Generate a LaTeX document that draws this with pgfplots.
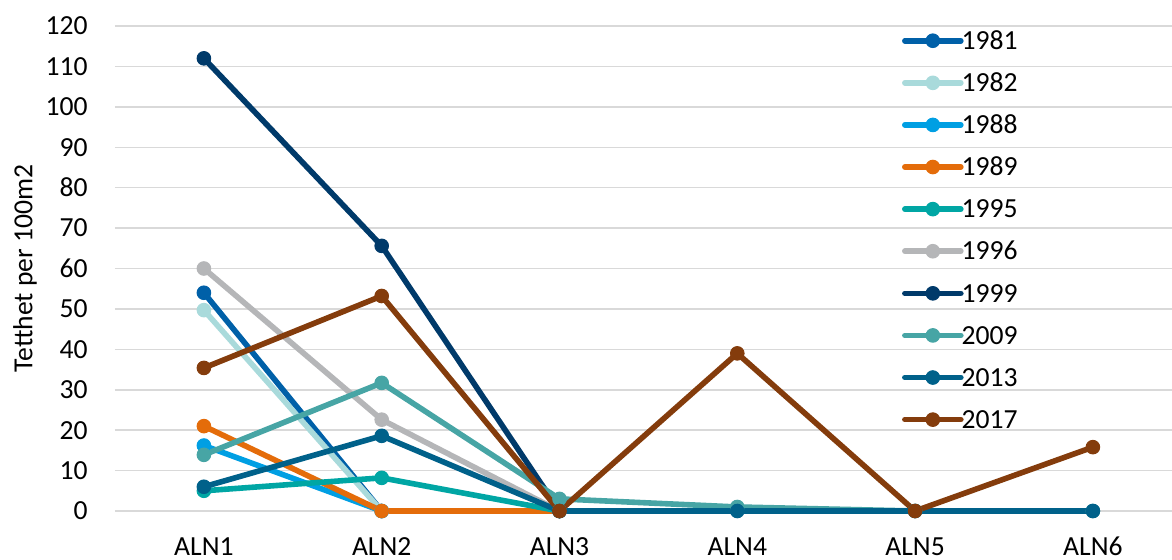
\documentclass[border=0pt]{standalone}
\usepackage{fontspec}
\setmainfont{Carlito}
\usepackage{pgfplots}
\pgfplotsset{compat=1.18}
\definecolor{c1981}{HTML}{0060A8}
\definecolor{c1982}{HTML}{A9DADB}
\definecolor{c1988}{HTML}{009FE3}
\definecolor{c1989}{HTML}{E46C0A}
\definecolor{c1995}{HTML}{00A6A4}
\definecolor{c1996}{HTML}{B5B6B8}
\definecolor{c1999}{HTML}{003A6A}
\definecolor{c2009}{HTML}{47A5A5}
\definecolor{c2013}{HTML}{00618A}
\definecolor{c2017}{HTML}{843C0C}
\definecolor{gridgray}{HTML}{D9D9D9}
\pgfplotsset{
  ser/.style={color=#1, line width=2.8pt, line join=round, line cap=round,
    mark=*, mark size=3.4pt, mark options={solid, line width=0.5pt, fill=#1, draw=#1}},
}
\begin{document}
\begin{tikzpicture}[font=\fontsize{13.8}{16}\selectfont]
\useasboundingbox (-57.5pt,-24pt) rectangle (528.5pt,255.5pt);
\begin{axis}[
  at={(0pt,0pt)}, anchor=south west,
  scale only axis, width=528.5pt, height=242.5pt,
  xmin=-0.5, xmax=5.445, ymin=0, ymax=120,
  xtick={0,1,2,3,4,5}, xticklabels={ALN1,ALN2,ALN3,ALN4,ALN5,ALN6},
  ytick={0,10,...,120},
  ymajorgrids, grid style={color=gridgray, line width=0.75pt},
  axis line style={draw=none}, major tick length=0pt,
  /pgf/number format/assume math mode=true,
  yticklabel style={anchor=east, inner sep=0pt, xshift=-13.5pt},
  xticklabel style={anchor=base, inner sep=0pt, yshift=-22pt},
  ylabel={Tetthet per 100m2},
  every axis y label/.style={at={(axis description cs:-0.0851,0.5)}, rotate=90, anchor=center},
  clip=false,
  legend style={draw=none, fill=none, at={(0.7446,0.9876)}, anchor=north west,
    inner sep=0pt, outer sep=0pt, row sep=12.35pt, column sep=-1pt,
    nodes={inner sep=0pt, text height=8.7pt, text depth=0pt}, cells={anchor=west}},
  legend image code/.code={\draw[mark repeat=2,mark phase=2,#1] plot coordinates {(0pt,0pt) (14pt,0pt) (28pt,0pt)};},
]
\addplot[ser=c1981] coordinates {(0,54) (1,0)};
\addlegendentry{1981}
\addplot[ser=c1982] coordinates {(0,49.7) (1,0)};
\addlegendentry{1982}
\addplot[ser=c1988] coordinates {(0,16.2) (1,0)};
\addlegendentry{1988}
\addplot[ser=c1989] coordinates {(0,21) (1,0) (2,0)};
\addlegendentry{1989}
\addplot[ser=c1995] coordinates {(0,5) (1,8.2) (2,0)};
\addlegendentry{1995}
\addplot[ser=c1996] coordinates {(0,60) (1,22.6) (2,0)};
\addlegendentry{1996}
\addplot[ser=c1999] coordinates {(0,112) (1,65.6) (2,0)};
\addlegendentry{1999}
\addplot[ser=c2009] coordinates {(0,13.9) (1,31.7) (2,3) (3,1) (4,0) (5,0)};
\addlegendentry{2009}
\addplot[ser=c2013] coordinates {(0,6) (1,18.6) (2,0) (3,0) (4,0) (5,0)};
\addlegendentry{2013}
\addplot[ser=c2017] coordinates {(0,35.4) (1,53.2) (2,0) (3,39) (4,0) (5,15.8)};
\addlegendentry{2017}
\end{axis}
\end{tikzpicture}
\end{document}
